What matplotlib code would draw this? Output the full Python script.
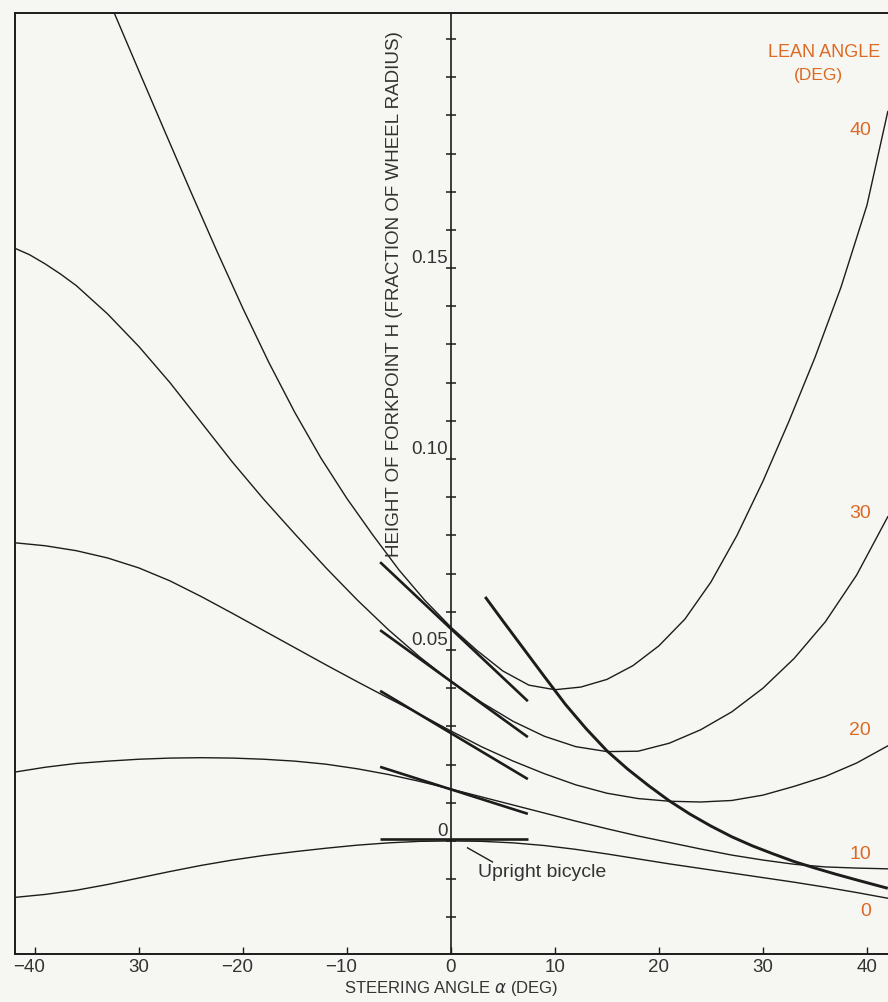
import matplotlib
matplotlib.use("Agg")
import matplotlib.pyplot as plt
import matplotlib.transforms as mtransforms

plt.rcParams["font.family"] = ["Liberation Sans", "DejaVu Sans"]

# Lean angle curves: height of forkpoint vs steering angle
alpha_grid = [-42, -39, -36, -33, -30, -27, -24, -21, -18, -15, -12, -9, -6, -3, 0,
              3, 6, 9, 12, 15, 18, 21, 24, 27, 30, 33, 36, 39, 42]

h_0 = [-0.0148, -0.0140, -0.0129, -0.0114, -0.0097, -0.0080, -0.0064, -0.0050, -0.0038, -0.0028,
       -0.0019, -0.0011, -0.0005, -0.0001, 0.0,
       -0.0001, -0.0005, -0.0012, -0.0022, -0.0034, -0.0047, -0.0060, -0.0072, -0.0084, -0.0096,
       -0.0108, -0.0121, -0.0135, -0.0150]

h_10 = [0.0180, 0.0193, 0.0203, 0.0209, 0.0214, 0.0217, 0.0218, 0.0217, 0.0214, 0.0209, 0.0201,
        0.0189, 0.0174, 0.0156, 0.0136,
        0.0115, 0.0094, 0.0073, 0.0052, 0.0032, 0.0013, -0.0004, -0.0021, -0.0037, -0.0050,
        -0.0061, -0.0068, -0.0071, -0.0073]

h_20 = [0.0781, 0.0773, 0.0760, 0.0741, 0.0715, 0.0681, 0.0640, 0.0596, 0.0551, 0.0506, 0.0461,
        0.0417, 0.0374, 0.0332, 0.0288,
        0.0246, 0.0209, 0.0176, 0.0147, 0.0125, 0.0111, 0.0104, 0.0102, 0.0106, 0.0120,
        0.0143, 0.0169, 0.0204, 0.0249]

alpha_30 = [-42, -40.5, -39, -37.5, -36, -33, -30, -27, -24, -21, -18, -15, -12, -9, -6, -3, 0,
            3, 6, 9, 12, 15, 18, 21, 24, 27, 30, 33, 36, 39, 42]
h_30 = [0.1553, 0.1535, 0.1511, 0.1484, 0.1454, 0.1380, 0.1295, 0.1200, 0.1096, 0.0992, 0.0895,
        0.0804, 0.0715, 0.0631, 0.0553, 0.0482, 0.0418,
        0.0362, 0.0313, 0.0274, 0.0247, 0.0234, 0.0235, 0.0256, 0.0291, 0.0338, 0.0400,
        0.0478, 0.0574, 0.0696, 0.0849]

alpha_40 = [-35, -32.5, -30, -27.5, -25, -22.5, -20, -17.5, -15, -12.5, -10, -7.5, -5, -2.5, 0,
            2.5, 5, 7.5, 10, 12.5, 15, 17.5, 20, 22.5, 25, 27.5, 30, 32.5, 35, 37.5, 40, 42]
h_40 = [0.2337, 0.2177, 0.2017, 0.1858, 0.1700, 0.1545, 0.1395, 0.1253, 0.1122, 0.1003, 0.0897,
        0.0801, 0.0710, 0.0630, 0.0560,
        0.0499, 0.0445, 0.0408, 0.0396, 0.0403, 0.0423, 0.0459, 0.0511, 0.0581, 0.0678, 0.0800,
        0.0942, 0.1099, 0.1266, 0.1450, 0.1665, 0.1910]

# Thick curve through the minima
alpha_min = [3.3, 5, 7, 9, 11, 13, 15, 17, 19, 21, 23, 25, 27, 29, 31, 33, 35, 37, 39, 42]
h_min = [0.0639, 0.0576, 0.0503, 0.0430, 0.0358, 0.0294, 0.0236, 0.0188, 0.0145, 0.0105, 0.0070,
         0.0039, 0.0011, -0.0013, -0.0034, -0.0054, -0.0071, -0.0087, -0.0102, -0.0124]

# Tangent segments at zero steering angle (lean 40, 30, 20, 10, 0)
tan_alpha = [-6.8, 7.4]
tan_h_left = [0.0730, 0.0552, 0.0393, 0.0194, 0.0004]
tan_h_right = [0.0366, 0.0272, 0.0162, 0.0071, 0.0004]

lean_labels = ["40", "30", "20", "10", "0"]
lean_label_h = [0.1862, 0.0861, 0.0293, -0.0034, -0.0183]

xtick_vals = [-40, -30, -20, -10, 0, 10, 20, 30, 40]
xtick_labels = ["\u221240", "30", "\u221220", "\u221210", "0", "10", "20", "30", "40"]
ytick_vals = [round(-0.02 + 0.01 * i, 2) for i in range(24)]
ylabel_vals = [0.0, 0.05, 0.10, 0.15]
ylabel_text = ["0", "0.05", "0.10", "0.15"]

ink = "#1c1c1c"
txt = "#333333"
orange = "#dc6a24"
bg = "#f6f6f2"

fig = plt.figure(figsize=(8.88, 10.03), dpi=100, facecolor=bg)
ax = fig.add_axes([15 / 888, 48 / 1003, 873 / 888, 941 / 1003], facecolor=bg)

# lean angle curves
for a, h in [(alpha_grid, h_0), (alpha_grid, h_10), (alpha_grid, h_20), (alpha_30, h_30),
             (alpha_40, h_40)]:
    ax.plot(a, h, color=ink, lw=1.0)
ax.plot(alpha_min, h_min, color=ink, lw=2.1, solid_capstyle="butt")
for hl, hr in zip(tan_h_left, tan_h_right):
    ax.plot(tan_alpha, [hl, hr], color=ink, lw=1.9, solid_capstyle="butt")

# central vertical axis with crossing ticks
ax.axvline(0, color=ink, lw=1.2)
ax.plot([0] * len(ytick_vals), ytick_vals, ls="none", marker="_", ms=7, mew=1.1, color=ink)
for v, t in zip(ylabel_vals, ylabel_text):
    ax.text(-0.3, v + 0.0015, t, ha="right", va="baseline", fontsize=13.5, color=txt)

ax.text(-5.4, 0.1435, "HEIGHT OF FORKPOINT H (FRACTION OF WHEEL RADIUS)", rotation=90,
        ha="center", va="center", fontsize=13.5, color=txt)

# upright bicycle note
ax.plot([1.6, 4.0], [-0.0018, -0.0055], color=ink, lw=1.0)
ax.text(2.6, -0.0081, "Upright bicycle", ha="left", va="center", fontsize=14, color=txt)

# lean angle labels
ax.text(35.9, 0.2068, "LEAN ANGLE", ha="center", va="center", fontsize=13, color=orange)
ax.text(35.3, 0.2008, "(DEG)", ha="center", va="center", fontsize=12.5, color=orange)
for t, v in zip(lean_labels, lean_label_h):
    ax.text(40.4, v, t, ha="right", va="center", fontsize=14, color=orange)

ax.set_xlim(-41.9, 42.02)
ax.set_ylim(-0.0296, 0.2168)
ax.set_yticks([])
ax.set_xticks(xtick_vals)
ax.set_xticklabels(xtick_labels, fontsize=13.5, color=txt)
ax.tick_params(axis="x", direction="in", length=5, width=1.0, color=ink, pad=3)
ax.set_xlabel("STEERING ANGLE $\\alpha$ (DEG)", fontsize=12, color=txt, labelpad=2)

# keep the digits centred on the tick, with the minus sign hanging to the left
shift = mtransforms.ScaledTranslation(-5.5 / 100, 0, fig.dpi_scale_trans)
for lab in ax.get_xticklabels():
    if lab.get_text().startswith("\u2212"):
        lab.set_transform(lab.get_transform() + shift)

for s in ["left", "top", "bottom"]:
    ax.spines[s].set_linewidth(1.4)
    ax.spines[s].set_color(ink)
ax.spines["right"].set_visible(False)

fig.savefig("out.png", dpi=100, facecolor=bg)
